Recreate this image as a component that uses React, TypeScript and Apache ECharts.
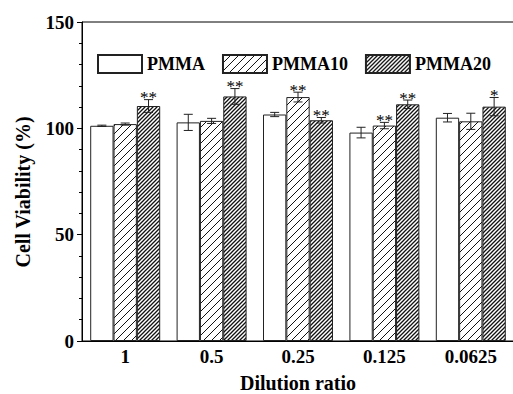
import React, { useEffect, useRef } from "react";
import * as echarts from "echarts";

const categories = ["1", "0.5", "0.25", "0.125", "0.0625"];
const seriesNames = ["PMMA", "PMMA10", "PMMA20"];
const pmma = [101.2, 102.8, 106.5, 98.0, 105.0];
const pmma10 = [102.0, 103.5, 114.7, 101.3, 103.3];
const pmma20 = [110.5, 115.0, 103.8, 111.3, 110.2];
const pmmaErr = [0.3, 3.8, 1.0, 2.5, 2.0];
const pmma10Err = [0.5, 1.2, 2.3, 1.5, 3.8];
const pmma20Err = [3.0, 3.7, 1.3, 2.0, 4.3];
const pmmaSig = ["", "", "", "", ""];
const pmma10Sig = ["", "", "**", "**", ""];
const pmma20Sig = ["**", "**", "**", "**", "*"];
const yTicks = [0, 50, 100, 150];

const FONT = "Liberation Serif";
const CAT_GAP = 0.19;

function hatch(spacing: number, lw: number, bg: string) {
  const c = document.createElement("canvas");
  c.width = spacing;
  c.height = spacing;
  const ctx = c.getContext("2d")!;
  ctx.fillStyle = bg;
  ctx.fillRect(0, 0, spacing, spacing);
  ctx.strokeStyle = "#111";
  ctx.lineWidth = lw;
  ctx.beginPath();
  ctx.moveTo(-1, spacing + 1);
  ctx.lineTo(spacing + 1, -1);
  ctx.moveTo(-1, 1);
  ctx.lineTo(1, -1);
  ctx.moveTo(spacing - 1, spacing + 1);
  ctx.lineTo(spacing + 1, spacing - 1);
  ctx.stroke();
  return c;
}

export default function App() {
  const ref = useRef<HTMLDivElement>(null);
  useEffect(() => {
    document.body.style.margin = "0";
    const chart = echarts.init(ref.current!, null, { renderer: "svg" });
    const values = [pmma, pmma10, pmma20];
    const errs = [pmmaErr, pmma10Err, pmma20Err];
    const sigs = [pmmaSig, pmma10Sig, pmma20Sig];
    const fills: any[] = [
      "#ffffff",
      { image: hatch(8, 1, "#ffffff"), repeat: "repeat" },
      { image: hatch(4, 1.3, "#ffffff"), repeat: "repeat" },
    ];
    const barSeries = seriesNames.map((name, i) => ({
      name,
      type: "bar",
      data: values[i],
      barGap: "0%",
      barCategoryGap: CAT_GAP * 100 + "%",
      itemStyle: { color: fills[i], borderColor: "#222", borderWidth: 1 },
      z: 2,
    }));
    const errSeries = seriesNames.map((name, i) => ({
      name: name + "-err",
      type: "custom",
      z: 5,
      data: values[i].map((v, k) => [k, v, errs[i][k]]),
      renderItem: (params: any, api: any) => {
        const idx = api.value(0);
        const v = api.value(1);
        const e = api.value(2);
        const sig = sigs[i][idx];
        const band = api.size([1, 0])[0];
        const bw = (band * (1 - CAT_GAP)) / 3;
        const cx = api.coord([idx, 0])[0] + (i - 1) * bw;
        const top = api.coord([idx, v + e])[1];
        const bot = api.coord([idx, v - e])[1];
        const cap = 4.5;
        const st = { stroke: "#222", lineWidth: 1 };
        const children: any[] = [
          { type: "line", shape: { x1: cx, y1: top, x2: cx, y2: bot }, style: st },
          { type: "line", shape: { x1: cx - cap, y1: top, x2: cx + cap, y2: top }, style: st },
          { type: "line", shape: { x1: cx - cap, y1: bot, x2: cx + cap, y2: bot }, style: st },
        ];
        if (sig) {
          children.push({
            type: "text",
            x: cx,
            y: top - 2,
            style: {
              text: sig,
              fill: "#000",
              fontFamily: FONT,
              fontSize: 17,
              align: "center",
              verticalAlign: "middle",
            },
          });
        }
        return { type: "group", children };
      },
    }));
    chart.setOption({
      animation: false,
      grid: {
        left: 82,
        right: -1,
        top: 22,
        bottom: 53,
        outerBoundsMode: "none",
        containLabel: false,
        show: true,
        borderColor: "#000",
        borderWidth: 1,
        backgroundColor: "transparent",
      },
      legend: {
        data: seriesNames,
        left: 97,
        top: 54,
        padding: 0,
        itemWidth: 44,
        itemHeight: 18,
        itemGap: 17,
        icon: "rect",
        textStyle: { fontFamily: FONT, fontWeight: "bold", fontSize: 18, color: "#000" },
      },
      xAxis: {
        type: "category",
        data: categories,
        axisLine: { lineStyle: { color: "#000", width: 1 } },
        axisTick: { show: false },
        axisLabel: { fontFamily: FONT, fontWeight: "bold", fontSize: 19, color: "#000", margin: 6 },
        name: "Dilution ratio",
        nameLocation: "middle",
        nameGap: 32,
        nameTextStyle: { fontFamily: FONT, fontWeight: "bold", fontSize: 20, color: "#000" },
      },
      yAxis: {
        type: "value",
        min: yTicks[0],
        max: yTicks[yTicks.length - 1],
        interval: 50,
        axisLine: { show: true, lineStyle: { color: "#000", width: 1 } },
        axisTick: { show: true, length: 5, lineStyle: { color: "#000" } },
        minorTick: { show: true, splitNumber: 5, length: 3, lineStyle: { color: "#000" } },
        splitLine: { show: false },
        axisLabel: { fontFamily: FONT, fontWeight: "bold", fontSize: 19, color: "#000", margin: 8 },
      },
      graphic: [
        {
          type: "text",
          x: 23,
          y: 192,
          rotation: Math.PI / 2,
          style: {
            text: "Cell Viability (%)",
            fontFamily: FONT,
            fontWeight: "bold",
            fontSize: 20,
            fill: "#000",
            align: "center",
            verticalAlign: "middle",
          },
        },
      ],
      series: [...barSeries, ...errSeries],
    });
    return () => chart.dispose();
  }, []);
  return <div ref={ref} style={{ width: 513, height: 394 }} />;
}
